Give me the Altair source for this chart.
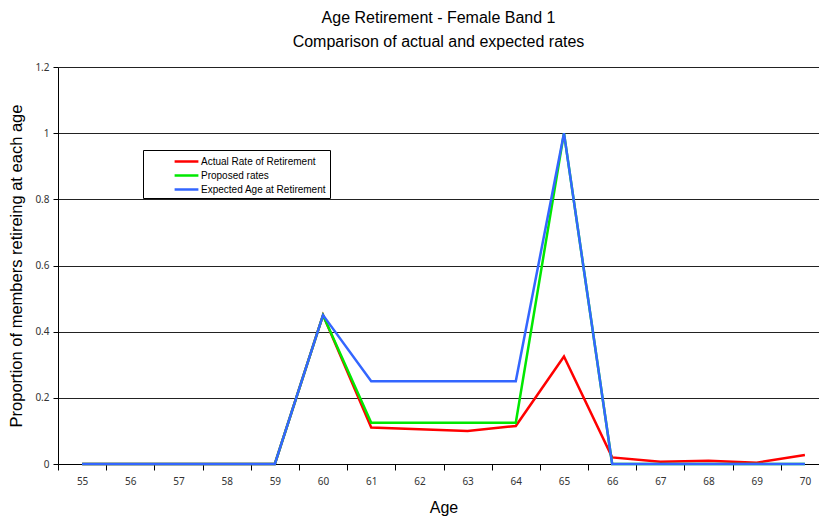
import altair as alt
import pandas as pd

ages = [55, 56, 57, 58, 59, 60, 61, 62, 63, 64, 65, 66, 67, 68, 69, 70]
actual = [0, 0, 0, 0, 0, 0.45, 0.11, 0.105, 0.10, 0.115, 0.325, 0.02, 0.007, 0.01, 0.004, 0.027]
proposed = [0, 0, 0, 0, 0, 0.45, 0.125, 0.125, 0.125, 0.125, 1.0, 0, 0, 0, 0, 0]
expected = [0, 0, 0, 0, 0, 0.45, 0.25, 0.25, 0.25, 0.25, 1.0, 0, 0, 0, 0, 0]

series_names = ["Actual Rate of Retirement", "Proposed rates", "Expected Age at Retirement"]
series_colors = ["#FF0000", "#00E800", "#3366FF"]

rows = []
for name, vals in zip(series_names, [actual, proposed, expected]):
    for i, (a, v) in enumerate(zip(ages, vals)):
        rows.append({"Age": str(a), "value": v, "series": name, "order": i})
df = pd.DataFrame(rows)

chart = alt.Chart(df).mark_line(strokeWidth=2.5).encode(
    x=alt.X("Age:O", sort=[str(a) for a in ages], bandPosition=0.5,
            scale=alt.Scale(type="band", paddingInner=0, paddingOuter=0, range=[0, 771]),
            axis=alt.Axis(title="Age", labelAngle=0, tickBand="extent", grid=False,
                          domainColor="#000", tickColor="#000", tickSize=6,
                          labelFont="Noto Sans", labelFontSize=10, labelColor="#333",
                          labelPadding=6, titleFont="Liberation Sans", titleFontSize=16,
                          titleFontWeight="normal", titleColor="#000", titlePadding=13)),
    y=alt.Y("value:Q", scale=alt.Scale(domain=[0, 1.2]),
            axis=alt.Axis(title="Proportion of members retireing at each age",
                          values=[0, 0.2, 0.4, 0.6, 0.8, 1.0, 1.2], format="~g",
                          grid=True, gridColor="#222", gridWidth=1,
                          domainColor="#000", tickColor="#000", tickSize=5,
                          labelFont="Noto Sans", labelFontSize=10, labelColor="#333",
                          labelPadding=4, titleFont="Liberation Sans", titleFontSize=16.5,
                          titleFontWeight="normal", titleColor="#000", titlePadding=10)),
    color=alt.Color("series:N", sort=series_names,
                    scale=alt.Scale(domain=series_names, range=series_colors),
                    legend=alt.Legend(title=None, orient="none", legendX=85, legendY=83,
                                      symbolType="M-1.7,0H1.7", symbolSize=196, symbolStrokeWidth=2.5,
                                      strokeColor="#000", fillColor="#fff", padding=3,
                                      symbolOffset=32, rowPadding=0,
                                      labelFont="Liberation Sans", labelFontSize=10,
                                      labelColor="#000", labelOffset=6)),
    detail="series:N",
    order="order:Q",
).properties(
    width=761,
    height=397,
    title=alt.TitleParams(["Age Retirement - Female Band 1", "Comparison of actual and expected rates"],
                          font="Liberation Sans", fontSize=16, fontWeight="normal", color="#000",
                          anchor="middle", lineHeight=24, offset=12),
    autosize=alt.AutoSizeParams(type="none"),
    padding={"left": 50, "top": 59, "right": 0, "bottom": 57},
).configure_view(stroke=None)

chart.save("out.html", embed_options={"renderer": "svg", "actions": False})
